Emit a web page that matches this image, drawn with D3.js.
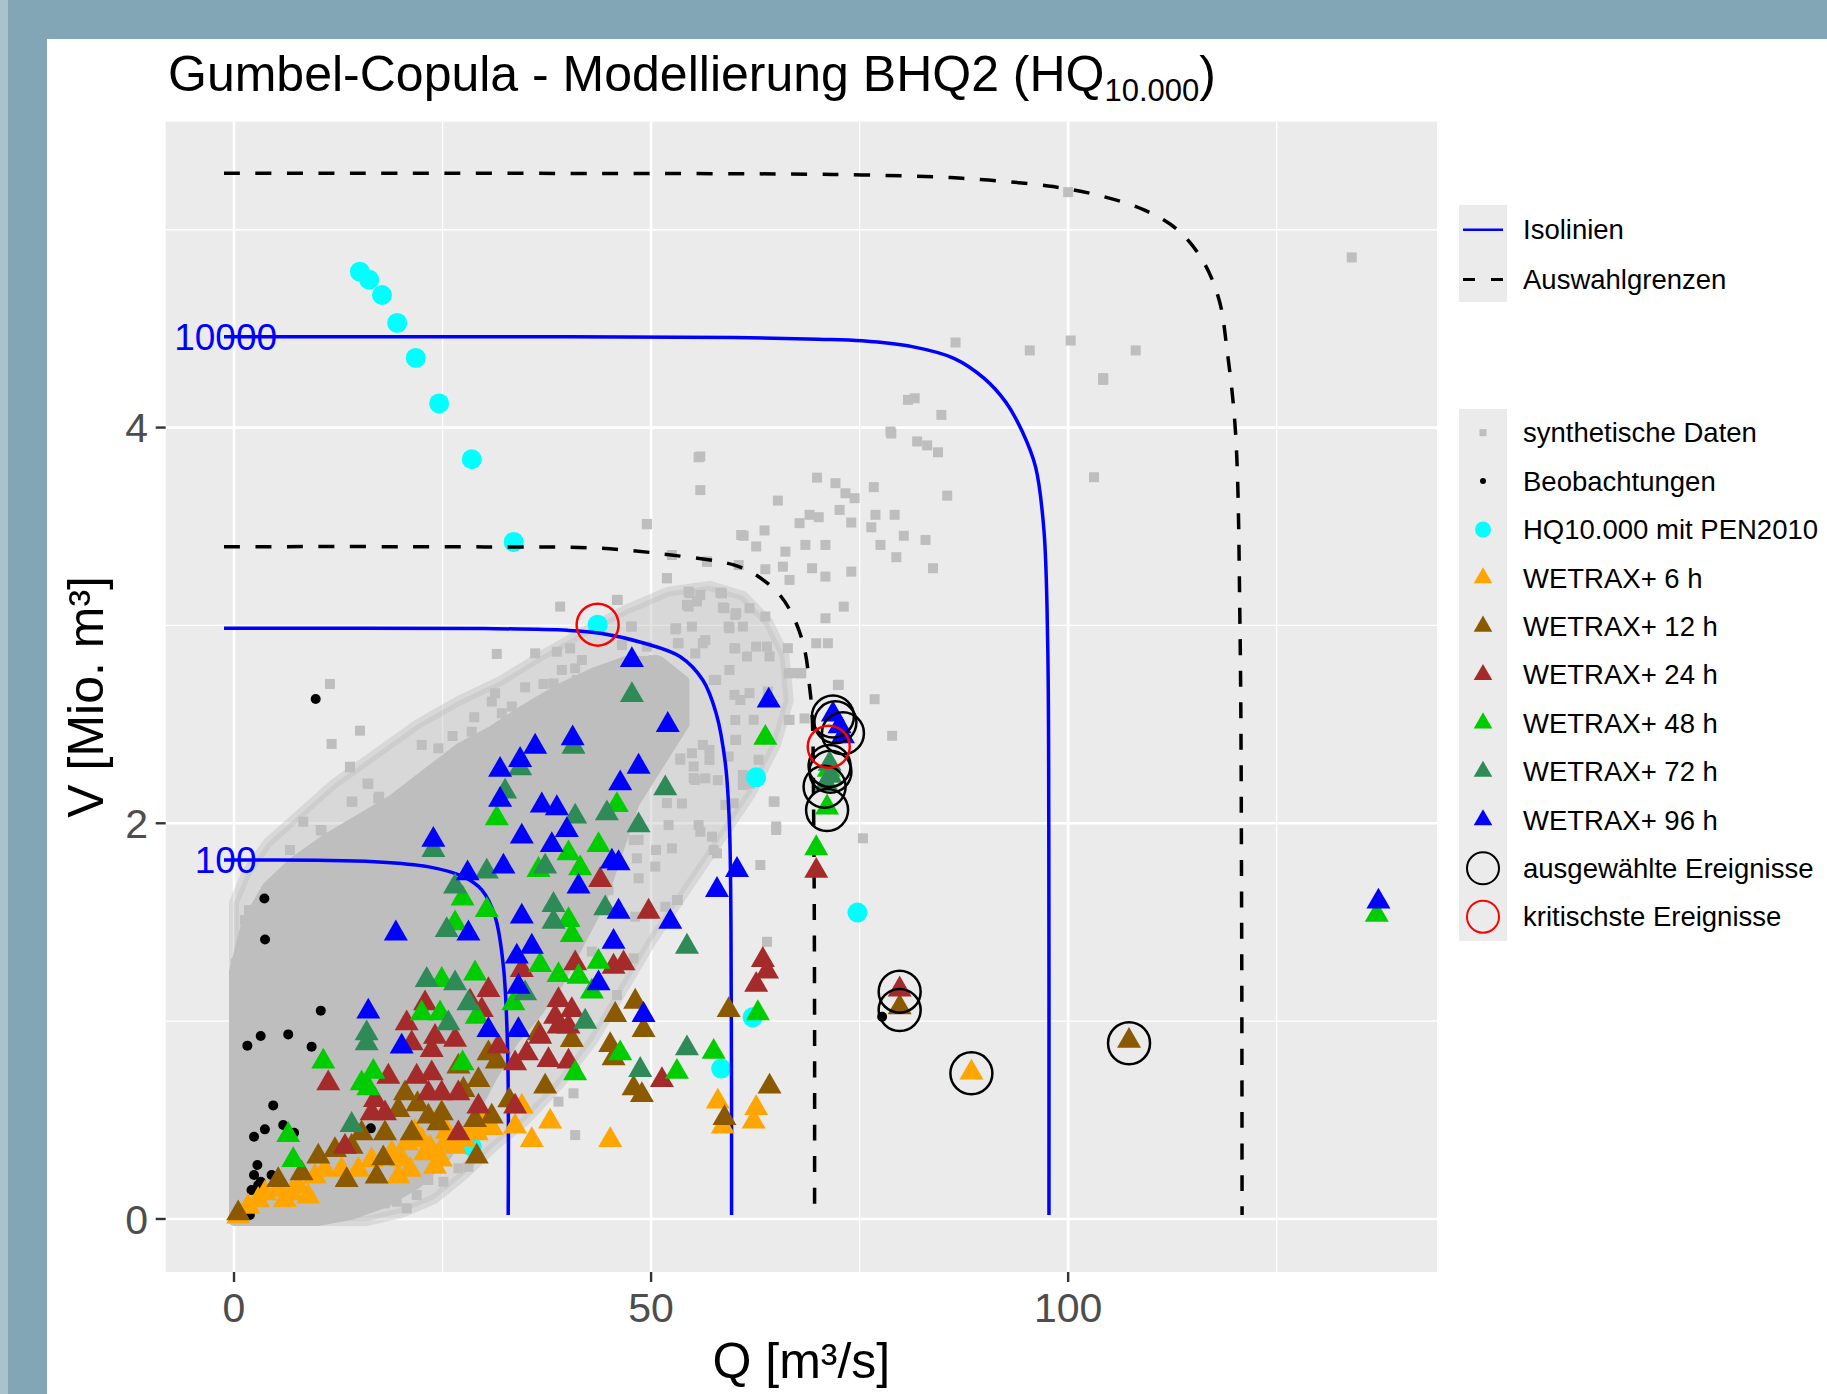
<!DOCTYPE html>
<html>
<head>
<meta charset="utf-8">
<script src="https://cdn.jsdelivr.net/npm/d3@7"></script>
<style>
  body { margin: 0; background: #82a6b5; }
  text { font-family: "Liberation Sans", Arial, Helvetica, sans-serif; }
</style>
</head>
<body>
<svg id="chart"></svg>
<script>
// Achsen
const xTicks = [0, 50, 100];
const yTicks = [0, 2, 4];
const xMinor = [25, 75, 125];
const yMinor = [1, 3, 5];

// Isolinien (Q, V)
const iso10000 = [[-1.2,4.459],[40,4.459],[60,4.455],[70,4.447],[75.3,4.439],[81.3,4.409],[86.3,4.35],[89.9,4.25],[92.5,4.13],[94.5,3.98],[96.1,3.80],[97.1,3.48],[97.55,2.9],[97.68,1.98],[97.7,0.02]];
const iso1000 = [[-1.2,2.986],[30,2.984],[40,2.975],[43.9,2.96],[49.2,2.91],[53.5,2.842],[56.2,2.724],[57.8,2.556],[58.9,2.303],[59.4,1.983],[59.62,1.0],[59.65,0.02]];
const iso100 = [[-1.2,1.815],[10,1.813],[16.8,1.806],[23.2,1.781],[27.5,1.73],[29.7,1.663],[31.3,1.528],[32.3,1.275],[32.8,0.854],[32.87,0.02]];
const isoLabels = [["10000", -1.0, 4.459], ["100", -1.0, 1.815]];

// Auswahlgrenzen
const grenzeAussen = [[-1.2,5.285],[60,5.283],[75.3,5.277],[87.3,5.26],[98.2,5.218],[104,5.17],[109.1,5.10],[113.1,5.0],[116.1,4.847],[118.1,4.645],[119.05,4.392],[120.07,3.973],[120.6,3.0],[120.8,1.5],[120.85,0.02]];
const grenzeInnen = [[-1.2,3.398],[30,3.397],[43.9,3.39],[52.4,3.356],[59.9,3.306],[62.9,3.246],[65.6,3.145],[67.4,3.011],[68.5,2.859],[69.0,2.69],[69.3,2.557],[69.5,2.0],[69.6,1.0],[69.6,0.02]];

// synthetische Daten: dichter Kern, lockerer Saum (Umrisse) + einzelne Punkte
const synthKern = [[0,-0.01],[0,1.25],[1.5,1.5],[4,1.68],[7,1.8],[11,1.92],[15,2.02],[19,2.12],[23,2.25],[27,2.38],[31,2.47],[35,2.58],[39,2.68],[43,2.76],[47,2.82],[51,2.82],[54,2.72],[54,2.5],[51,2.3],[48,2.1],[46,1.85],[44,1.6],[41.5,1.4],[39,1.2],[36.5,1.05],[33.5,0.9],[31,0.72],[28.5,0.52],[25.5,0.32],[22,0.18],[18,0.08],[14,0.02],[10,-0.01]];
const synthSaum = [[0,-0.01],[0,1.6],[1.5,1.75],[4,1.9],[8,2.05],[12,2.2],[17,2.35],[22,2.5],[27,2.62],[32,2.72],[37,2.85],[42,2.97],[47,3.08],[52,3.17],[57,3.2],[61,3.15],[64,3.02],[66,2.85],[66.5,2.62],[65,2.4],[62,2.15],[58,1.9],[54,1.65],[50,1.4],[46.5,1.15],[43,0.9],[39,0.68],[35,0.5],[31,0.36],[27.5,0.22],[24,0.1],[20,0.03],[16,-0.01]];
const synthPunkte = [
  [55.9,3.684],[49.5,3.511],[60.8,3.457],[52.5,3.356],[56.7,3.322],[60.5,3.305],[51.9,3.238],[54.5,3.171],[55.9,3.154],[58.5,3.162],[54.5,3.095],[58.6,3.091],[45.9,3.129],[39.1,3.095],[60.1,3.053],[47.7,2.994],[52.9,2.98],[54.9,2.994],[59.3,2.994],[46.5,2.901],[49.5,2.893],[53.3,2.91],[56.5,2.926],[60.1,2.884],[31.5,2.856],[36.1,2.859],[38.7,2.867],[40.3,2.884],[41.7,2.825],[50.3,2.825],[55.3,2.859],[39.3,2.775],[40.9,2.783],[41.1,2.724],[34.9,2.687],[37.1,2.704],[38.3,2.707],[39.7,2.643],[41.5,2.657],[11.5,2.704],[31.3,2.657],[30.9,2.615],[33.3,2.59],[32.1,2.556],[57.5,2.724],[50.5,2.758],[15.1,2.468],[11.7,2.401],[28.8,2.536],[26.2,2.441],[28.5,2.463],[22.5,2.396],[24.5,2.379],[34.1,2.429],[13.9,2.283],[16.1,2.199],[14.1,2.109],[17.3,2.126],[8.3,2.008],[10.5,1.963],[19.9,2.025],[19.1,2.1],[21.3,2.135],[54.9,2.354],[56.5,2.227],[55.3,2.219],[60.1,2.421],[59.3,2.337],[52.1,1.991],[55.7,1.991],[57.3,1.932],[52.5,1.873],[48.5,1.916],[48.3,1.823],[50.5,1.781],[48.5,1.722],[57.9,1.848],[59.9,2.101],[53.7,2.1],[60.7,2.623],[60.1,2.522],
  [80.8,4.14],[81.6,4.148],[84.8,4.064],[104.2,4.241],[78.7,3.98],[81.9,3.93],[84.4,3.875],[55.9,3.854],[103.1,3.749],[69.9,3.747],[72.1,3.719],[76.7,3.699],[85.5,3.656],[73.3,3.668],[74.4,3.643],[65.2,3.631],[69.0,3.559],[70.1,3.547],[72.6,3.584],[74.0,3.52],[76.9,3.559],[79.2,3.559],[76.4,3.496],[67.8,3.517],[63.6,3.48],[61.1,3.453],[80.3,3.453],[82.9,3.432],[68.5,3.407],[70.9,3.407],[77.5,3.407],[62.6,3.399],[66.1,3.373],[79.4,3.345],[69.3,3.289],[63.7,3.284],[65.8,3.297],[70.9,3.247],[74.0,3.272],[83.8,3.289],[51.9,3.239],[56.7,3.323],[66.6,3.23],[49.5,3.513],[54.6,3.163],[58.3,3.166],[55.5,3.121],[54.3,3.104],[58.8,3.087],[60.2,3.062],[61.8,3.087],[63.7,3.045],[73.1,3.095],[70.9,3.036],[46.0,3.129],[47.6,2.994],[53.0,2.986],[59.4,2.986],[61.0,2.994],[53.2,2.91],[56.2,2.91],[60.0,2.885],[62.6,2.893],[63.9,2.893],[66.4,2.885],[69.8,2.91],[71.2,2.91],[61.5,2.843],[64.2,2.843],[66.9,2.759],[68.0,2.759],[59.4,2.775],[57.8,2.725],[60.0,2.649],[61.8,2.658],[64.0,2.666],[72.5,2.7],[76.8,2.627],[66.6,2.523],[62.3,2.523],[60.2,2.422],[78.9,2.442],[56.2,2.396],[62.9,2.321],[61.0,2.194],[64.8,2.11],[51.9,2.102],[58.9,2.093],[65.0,1.984],[55.1,2.228],[57.0,2.371],[53.5,2.321],[55.1,2.287],[49.2,2.489],
  [72.4,2.699],[75.4,1.924],[66.5,2.758],[67.9,2.758],[66.5,2.522],[68.4,2.53],
  [100.0,5.19],[134.0,4.86],[86.5,4.43],[95.4,4.39],[100.3,4.44],[108.1,4.39],[104.2,4.25],[78.8,3.97],[83.1,3.91],[55.7,3.85],
  [18.1,0.079],[19.5,0.087],[20.7,0.054],[21.9,0.121],[23.3,0.197],[25.1,0.188],[26.9,0.256],[28.1,0.264],[40.7,0.635],[38.9,0.593],[40.9,0.424],[45.9,1.132],[47.9,1.317],[51.7,1.578],[53.1,1.612],[44.9,1.662],[42.9,1.351],[48.1,1.528],[64.7,2.109],[65.0,1.966],[63.1,1.789],[63.9,1.401],[53.2,1.612],[57.5,1.865],[55.9,1.957],[57.0,2.32],[58.0,2.218],[53.5,2.328],[61.8,2.2],[61.0,2.244],[50.6,1.865],[47.9,1.915],[13.9,2.286],[16.0,2.201],[14.2,2.109],[17.4,2.134],[10.4,1.966],[6.7,1.865],[7.2,1.797],[5.3,1.705],[1.3,1.511],[0.2,1.292],[1.8,1.561],[4.0,1.629]
];

// Beobachtungen
const beobachtungen = [[3.64,1.62],[3.72,1.413],[10.4,1.053],[3.2,0.925],[6.5,0.933],[1.6,0.876],[9.3,0.871],[4.7,0.574],[5.9,0.475],[3.7,0.453],[2.4,0.416],[7.2,0.436],[16.4,0.458],[2.8,0.273],[2.4,0.222],[4.5,0.222],[2.9,0.171],[2.1,0.146],[3.2,0.188],[1.9,0.02],[9.79,2.628],[77.7,1.022]];

// HQ10.000 mit PEN2010
const hqPen = [[15.09,4.788],[16.21,4.747],[17.74,4.67],[19.56,4.529],[21.79,4.352],[24.59,4.122],[28.5,3.84],[33.53,3.422],[43.59,3.004],[62.59,2.232],[74.74,1.549],[62.17,1.019],[58.4,0.76],[28.5,0.365]];

// WETRAX+ Ereignisse
const wetrax6 = [[37.9,0.492],[35.7,0.399],[45.1,0.399],[33.7,0.467],[34.5,0.568],[58.0,0.593],[58.6,0.467],[62.6,0.56],[62.3,0.492],[29.1,0.433],[26.5,0.365],[25.3,0.382],[22.5,0.399],[20.7,0.382],[22.9,0.332],[24.1,0.264],[21.1,0.248],[19.7,0.214],[18.9,0.332],[16.5,0.298],[14.9,0.248],[12.9,0.248],[10.9,0.248],[9.7,0.214],[7.7,0.164],[6.9,0.13],[5.3,0.147],[3.7,0.13],[2.9,0.096],[1.7,0.062],[0.5,0.012],[8.9,0.113],[6.1,0.096],[88.4,0.74],[21.7,0.44],[23.5,0.36],[20.1,0.30],[24.8,0.30],[27.6,0.40],[25.5,0.44],[30.9,0.46],[28.9,0.47],[29.6,0.536]];
const wetrax12 = [[48.1,1.098],[45.7,1.031],[49.1,0.955],[45.1,0.879],[45.5,0.812],[40.5,0.904],[36.5,0.938],[37.3,0.669],[47.9,0.66],[48.9,0.626],[59.3,1.056],[58.8,0.51],[64.2,0.669],[30.5,0.837],[31.5,0.795],[29.3,0.702],[27.5,0.652],[20.5,0.635],[19.7,0.551],[23.3,0.517],[24.9,0.534],[24.5,0.483],[30.9,0.517],[28.9,0.5],[18.1,0.433],[15.3,0.433],[14.1,0.365],[12.1,0.348],[10.1,0.315],[8.1,0.231],[5.3,0.197],[13.5,0.197],[17.1,0.214],[17.9,0.306],[21.3,0.433],[29.1,0.315],[0.5,0.028],[79.8,1.07],[107.3,0.9],[26.9,0.77],[22.0,0.58],[33.0,0.6]];
const wetrax24 = [[49.7,1.553],[46.7,1.292],[45.5,1.275],[40.9,1.292],[34.5,1.258],[30.5,1.157],[28.3,1.098],[29.7,1.056],[38.9,1.106],[40.5,1.056],[38.5,1.022],[40.1,0.972],[38.9,0.972],[36.7,0.921],[35.1,0.837],[37.7,0.803],[40.1,0.795],[33.7,0.787],[31.7,0.871],[22.9,1.09],[20.7,0.989],[21.3,0.888],[24.1,0.921],[26.5,0.905],[23.7,0.854],[18.5,0.719],[21.9,0.719],[23.7,0.736],[23.3,0.635],[24.9,0.635],[16.9,0.601],[18.1,0.534],[16.5,0.534],[26.9,0.635],[29.3,0.568],[26.9,0.433],[33.7,0.568],[11.3,0.686],[13.3,0.365],[51.3,0.702],[63.4,1.309],[63.9,1.25],[62.6,1.183],[69.8,1.76],[43.9,1.713],[79.8,1.16]];
const wetrax48 = [[31.5,2.025],[45.9,2.092],[43.7,1.89],[40.1,1.848],[41.5,1.772],[36.5,1.764],[26.5,1.494],[27.4,1.62],[30.3,1.561],[40.1,1.511],[40.5,1.435],[43.7,1.3],[42.9,1.149],[41.3,1.224],[38.9,1.233],[36.7,1.283],[28.9,1.241],[24.9,1.208],[29.1,1.022],[22.5,1.039],[24.7,1.039],[27.4,0.787],[10.7,0.795],[16.7,0.744],[15.3,0.686],[16.1,0.66],[46.3,0.837],[40.9,0.736],[53.1,0.744],[57.5,0.845],[6.5,0.424],[7.1,0.298],[33.5,1.09],[62.8,1.04],[63.7,2.432],[69.8,1.874],[71.3,2.27],[71.1,2.08],[137.0,1.537]];
const wetrax72 = [[47.7,2.648],[40.7,2.387],[34.3,2.278],[32.5,2.16],[51.7,2.177],[44.7,2.05],[48.5,1.99],[40.9,2.034],[23.9,1.865],[30.3,1.756],[37.3,1.781],[26.5,1.68],[38.3,1.587],[38.3,1.502],[44.5,1.57],[54.3,1.376],[23.1,1.208],[26.5,1.191],[15.9,0.938],[15.9,0.888],[28.1,1.09],[25.7,0.989],[42.1,0.997],[54.3,0.862],[48.7,0.753],[14.1,0.475],[34.9,1.14],[25.5,1.46],[71.4,2.3],[71.5,2.24],[71.0,2.2]];
const wetrax96 = [[47.7,2.825],[52.0,2.497],[48.5,2.286],[46.3,2.202],[36.1,2.387],[40.6,2.429],[34.3,2.32],[31.9,2.27],[31.9,2.118],[36.9,2.09],[38.7,2.076],[39.9,1.966],[34.5,1.933],[38.1,1.89],[23.9,1.916],[28.0,1.747],[32.3,1.781],[45.3,1.806],[46.1,1.798],[41.3,1.68],[57.9,1.663],[60.3,1.764],[19.4,1.443],[28.1,1.443],[34.5,1.528],[35.7,1.376],[33.9,1.326],[34.1,1.174],[16.1,1.048],[20.1,0.871],[30.5,0.955],[34.1,0.955],[45.5,1.401],[46.1,1.553],[52.3,1.502],[43.7,1.191],[49.1,1.031],[64.1,2.62],[71.8,2.55],[72.6,2.49],[73.0,2.44],[137.2,1.604]];

// ausgewählte und kritischste Ereignisse
const ausgewaehlt = [[71.8,2.54],[72.1,2.51],[73.0,2.455],[71.4,2.29],[71.5,2.26],[70.8,2.185],[71.1,2.067],[79.8,1.149],[79.8,1.056],[88.4,0.736],[107.3,0.888]];
const kritisch = [[43.59,3.004],[71.3,2.387]];

// Legende
const legendLinien = ["Isolinien", "Auswahlgrenzen"];
const legendPunkte = ["synthetische Daten", "Beobachtungen", "HQ10.000 mit PEN2010", "WETRAX+ 6 h", "WETRAX+ 12 h", "WETRAX+ 24 h", "WETRAX+ 48 h", "WETRAX+ 72 h", "WETRAX+ 96 h", "ausgewählte Ereignisse", "kritischste Ereignisse"];

const farben = {
  grau: "#bebebe", cyan: "#00ffff",
  h6: "#ffa500", h12: "#8b5a00", h24: "#a52a2a", h48: "#00cd00", h72: "#2e8b57", h96: "#0000ff"
};

const W = 1827, H = 1394;
const svg = d3.select("#chart").attr("width", W).attr("height", H);

// Hintergrund (Folie)
svg.append("rect").attr("width", W).attr("height", H).attr("fill", "#82a6b5");
svg.append("rect").attr("width", 8).attr("height", H).attr("fill", "#a9c2cc");
svg.append("rect").attr("x", 47).attr("y", 39).attr("width", W - 47).attr("height", H - 39).attr("fill", "#fff");

// Skalen
const x = d3.scaleLinear().domain([-8.19, 144.22]).range([165.7, 1437]);
const y = d3.scaleLinear().domain([-0.268, 5.546]).range([1272, 121.7]);
const [px0, px1] = x.range();
const [py0, py1] = y.range();

svg.append("defs").append("clipPath").attr("id", "panel")
  .append("rect").attr("x", px0).attr("y", py1).attr("width", px1 - px0).attr("height", py0 - py1);

svg.append("rect").attr("x", px0).attr("y", py1).attr("width", px1 - px0).attr("height", py0 - py1).attr("fill", "#ebebeb");

// Gitter
const grid = svg.append("g").attr("stroke", "#fff");
grid.selectAll(".vmin").data(xMinor).join("line")
  .attr("x1", d => x(d)).attr("x2", d => x(d)).attr("y1", py1).attr("y2", py0).attr("stroke-width", 1.3);
grid.selectAll(".hmin").data(yMinor).join("line")
  .attr("y1", d => y(d)).attr("y2", d => y(d)).attr("x1", px0).attr("x2", px1).attr("stroke-width", 1.3);
grid.selectAll(".vmaj").data(xTicks).join("line")
  .attr("x1", d => x(d)).attr("x2", d => x(d)).attr("y1", py1).attr("y2", py0).attr("stroke-width", 2.6);
grid.selectAll(".hmaj").data(yTicks).join("line")
  .attr("y1", d => y(d)).attr("y2", d => y(d)).attr("x1", px0).attr("x2", px1).attr("stroke-width", 2.6);

const plot = svg.append("g").attr("clip-path", "url(#panel)");

// synthetische Daten
const line = d3.line().x(d => x(d[0])).y(d => y(d[1]));
plot.append("path").attr("d", line(synthSaum) + "Z").attr("fill", farben.grau).attr("fill-opacity", 0.42)
  .attr("stroke", farben.grau).attr("stroke-opacity", 0.42).attr("stroke-width", 10).attr("stroke-linejoin", "round");
plot.append("path").attr("d", line(synthKern) + "Z").attr("fill", farben.grau)
  .attr("stroke", farben.grau).attr("stroke-width", 10).attr("stroke-linejoin", "round");
plot.append("g").selectAll("rect").data(synthPunkte).join("rect")
  .attr("x", d => x(d[0]) - 5).attr("y", d => y(d[1]) - 5)
  .attr("width", 10).attr("height", 10).attr("fill", farben.grau);

// Beobachtungen und HQ10.000
plot.append("g").selectAll("circle").data(beobachtungen).join("circle")
  .attr("cx", d => x(d[0])).attr("cy", d => y(d[1])).attr("r", 5).attr("fill", "#000");
plot.append("g").selectAll("circle").data(hqPen).join("circle")
  .attr("cx", d => x(d[0])).attr("cy", d => y(d[1])).attr("r", 10).attr("fill", farben.cyan);

// Linien
const curve = d3.line().x(d => x(d[0])).y(d => y(d[1])).curve(d3.curveCatmullRom.alpha(0.5));
[grenzeAussen, grenzeInnen].forEach(g => {
  plot.append("path").attr("d", curve(g)).attr("fill", "none")
    .attr("stroke", "#000").attr("stroke-width", 3.5).attr("stroke-dasharray", "16 15.5");
});
[iso10000, iso1000, iso100].forEach(g => {
  plot.append("path").attr("d", curve(g)).attr("fill", "none")
    .attr("stroke", "#0000ff").attr("stroke-width", 3.5);
});

// WETRAX+ Dreiecke
const tri = d3.symbol(d3.symbolTriangle, 250);
[[wetrax6, farben.h6], [wetrax12, farben.h12], [wetrax24, farben.h24],
 [wetrax48, farben.h48], [wetrax72, farben.h72], [wetrax96, farben.h96]].forEach(([data, col]) => {
  plot.append("g").selectAll("path").data(data).join("path")
    .attr("d", tri).attr("transform", d => `translate(${x(d[0])},${y(d[1])})`).attr("fill", col);
});

// Kreise
plot.append("g").selectAll("circle").data(ausgewaehlt).join("circle")
  .attr("cx", d => x(d[0])).attr("cy", d => y(d[1])).attr("r", 21)
  .attr("fill", "none").attr("stroke", "#000").attr("stroke-width", 2.5);
plot.append("g").selectAll("circle").data(kritisch).join("circle")
  .attr("cx", d => x(d[0])).attr("cy", d => y(d[1])).attr("r", 21)
  .attr("fill", "none").attr("stroke", "#ff0000").attr("stroke-width", 2.5);

// Beschriftung der Isolinien
plot.append("g").selectAll("text").data(isoLabels).join("text")
  .attr("x", d => x(d[1])).attr("y", d => y(d[2])).attr("dy", "0.35em")
  .attr("text-anchor", "middle").attr("font-size", 37).attr("fill", "#0000ff")
  .text(d => d[0]);

// Achsen
const axes = svg.append("g");
axes.selectAll(".xt").data(xTicks).join("line")
  .attr("x1", d => x(d)).attr("x2", d => x(d)).attr("y1", py0).attr("y2", py0 + 10)
  .attr("stroke", "#333").attr("stroke-width", 2.4);
axes.selectAll(".yt").data(yTicks).join("line")
  .attr("y1", d => y(d)).attr("y2", d => y(d)).attr("x1", px0 - 10).attr("x2", px0)
  .attr("stroke", "#333").attr("stroke-width", 2.4);
axes.selectAll(".xl").data(xTicks).join("text")
  .attr("x", d => x(d)).attr("y", 1322).attr("text-anchor", "middle")
  .attr("font-size", 41).attr("fill", "#4d4d4d").text(d => d);
axes.selectAll(".yl").data(yTicks).join("text")
  .attr("x", 148).attr("y", d => y(d)).attr("dy", "0.36em").attr("text-anchor", "end")
  .attr("font-size", 41).attr("fill", "#4d4d4d").text(d => d);

svg.append("text").attr("x", (px0 + px1) / 2).attr("y", 1378).attr("text-anchor", "middle")
  .attr("font-size", 50).text("Q [m³/s]");
svg.append("text").attr("transform", `translate(103,${(py0 + py1) / 2}) rotate(-90)`)
  .attr("text-anchor", "middle").attr("font-size", 50).text("V [Mio. m³]");

// Titel
const title = svg.append("text").attr("x", 168).attr("y", 91).attr("font-size", 50);
title.append("tspan").text("Gumbel-Copula - Modellierung BHQ2 (HQ");
title.append("tspan").attr("font-size", 31).attr("dy", 10).text("10.000");
title.append("tspan").attr("dy", -10).text(")");

// Legende: Linien
const lx = 1459, lw = 48, tx = 1523, step = 48.4;
const leg1 = svg.append("g");
leg1.append("rect").attr("x", lx).attr("y", 205).attr("width", lw).attr("height", 97).attr("fill", "#ebebeb");
legendLinien.forEach((name, i) => {
  const cy = 229.8 + i * 49.7;
  leg1.append("line").attr("x1", lx + 4).attr("x2", lx + lw - 4).attr("y1", cy).attr("y2", cy)
    .attr("stroke", i === 0 ? "#0000ff" : "#000").attr("stroke-width", i === 0 ? 2.5 : 3)
    .attr("stroke-dasharray", i === 0 ? null : "12 16");
  leg1.append("text").attr("x", tx).attr("y", cy).attr("dy", "0.35em")
    .attr("font-size", 27.5).text(name);
});

// Legende: Punkte
const leg2 = svg.append("g");
leg2.append("rect").attr("x", lx).attr("y", 409).attr("width", lw).attr("height", 532).attr("fill", "#ebebeb");
const kx = lx + lw / 2;
const keyTri = d3.symbol(d3.symbolTriangle, 150);
const triCols = [farben.h6, farben.h12, farben.h24, farben.h48, farben.h72, farben.h96];
legendPunkte.forEach((name, i) => {
  const cy = 432.7 + i * step;
  if (i === 0) leg2.append("rect").attr("x", kx - 3.5).attr("y", cy - 3.5).attr("width", 7).attr("height", 7).attr("fill", farben.grau);
  else if (i === 1) leg2.append("circle").attr("cx", kx).attr("cy", cy).attr("r", 3).attr("fill", "#000");
  else if (i === 2) leg2.append("circle").attr("cx", kx).attr("cy", cy).attr("r", 8).attr("fill", farben.cyan);
  else if (i < 9) leg2.append("path").attr("d", keyTri).attr("transform", `translate(${kx},${cy})`).attr("fill", triCols[i - 3]);
  else leg2.append("circle").attr("cx", kx).attr("cy", cy).attr("r", 16).attr("fill", "none")
    .attr("stroke", i === 9 ? "#000" : "#ff0000").attr("stroke-width", 2);
  leg2.append("text").attr("x", tx).attr("y", cy).attr("dy", "0.35em")
    .attr("font-size", 27.5).text(name);
});
</script>
</body>
</html>
